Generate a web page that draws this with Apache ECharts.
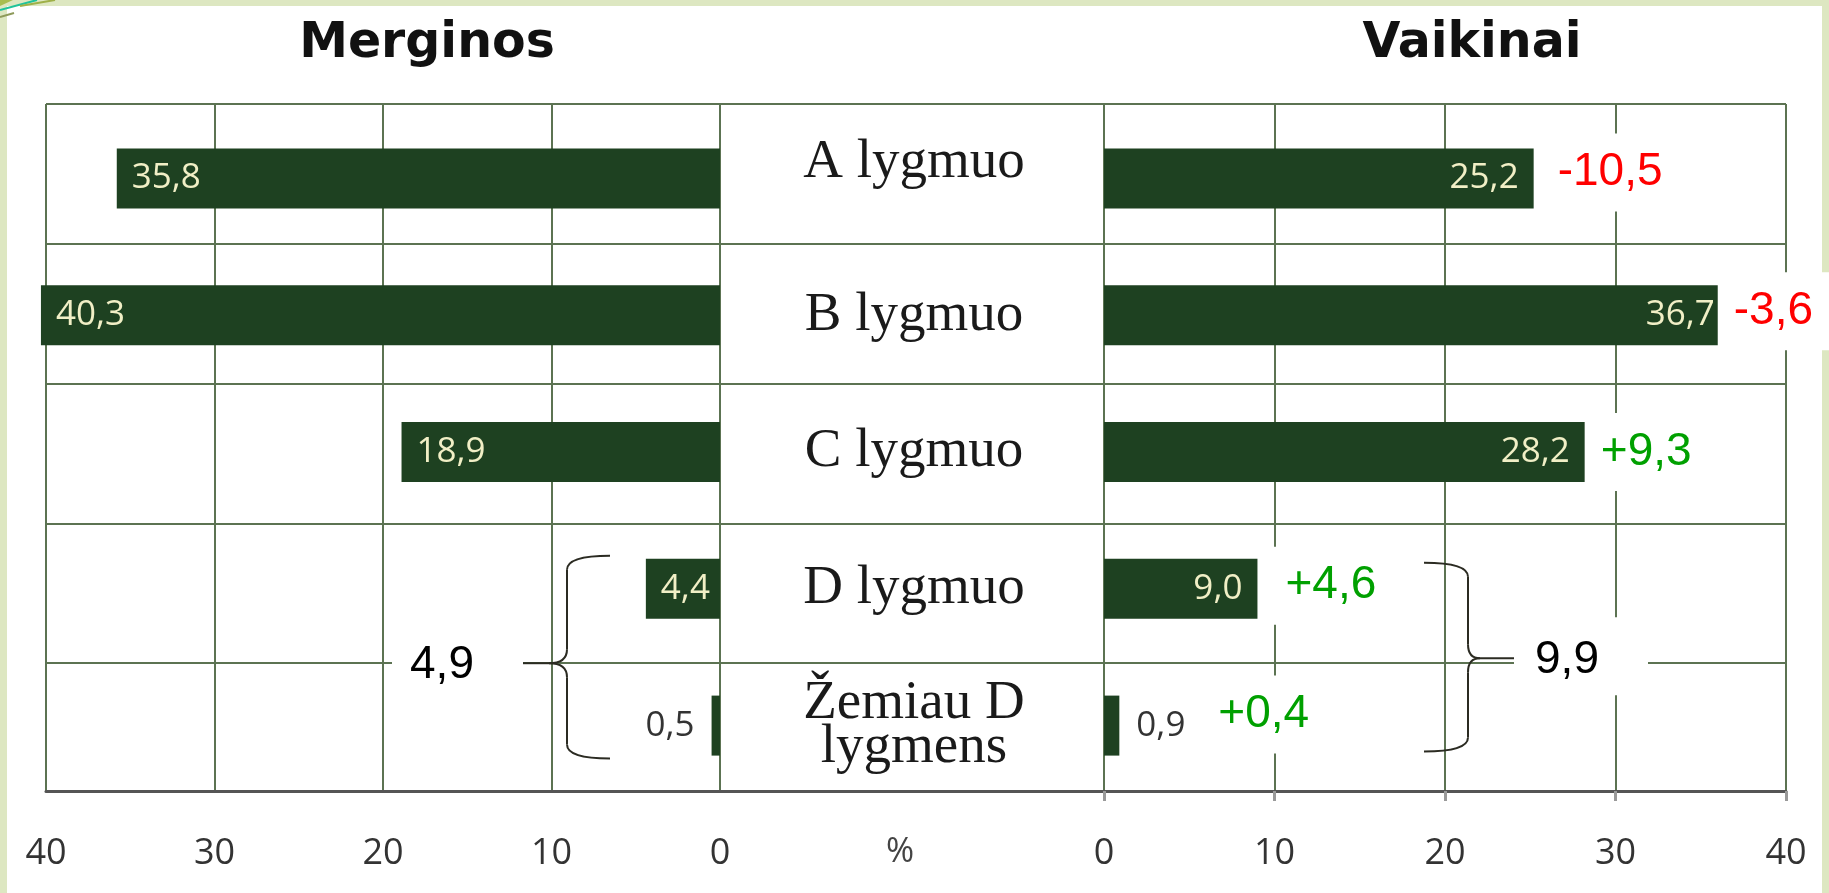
<!DOCTYPE html>
<html>
<head>
<meta charset="utf-8">
<title>Merginos / Vaikinai</title>
<script src="https://cdn.jsdelivr.net/npm/echarts@6/dist/echarts.min.js"></script>
<style>
  html, body { margin: 0; padding: 0; background: #fff; }
  #chart { width: 1829px; height: 893px; }
</style>
</head>
<body>
<div id="chart"></div>
<script>
// data
const levels = ['A lygmuo', 'B lygmuo', 'C lygmuo', 'D lygmuo', 'Žemiau D\nlygmens'];
const girls = [35.8, 40.3, 18.9, 4.4, 0.5];   // Merginos, %
const boys = [25.2, 36.7, 28.2, 9.0, 0.9];    // Vaikinai, %
const change = [-10.5, -3.6, 9.3, 4.6, 0.4];  // boys - girls
const lowSums = [4.9, 9.9];                   // D + below D: girls, boys

// styles
const LINE = '#5c7352';
const BAR = '#1e4121';
const BAR_TXT = '#f1efc6';
const RED = '#ff0000';
const GREEN = '#00a000';
const STRIP = '#dde7c1';
const SANS = 'Open Sans';
const SERIF = 'Liberation Serif';
// label nudges for the change numbers (px, relative to the bar end)
const changeOffsets = [[8, -6], [-12, -4], [0, 0], [12, -3], [83, -11]];

const fmt = v => v.toFixed(1).replace('.', ',');
const signed = v => (v > 0 ? '+' : '') + fmt(v);

const chart = echarts.init(document.getElementById('chart'));

function barItems(values, outside) {
  return values.map(v => v < 2
    ? { value: v, label: { position: outside, color: '#333', distance: 17 } }
    : v);
}

const hidden = { show: false };
const option = {
  backgroundColor: '#fff',
  animation: false,
  grid: [
    { left: 46, top: 104, width: 1740, height: 687, outerBoundsMode: 'none' },  // frame
    { left: 46, top: 104, width: 674, height: 687, outerBoundsMode: 'none' },   // girls lines
    { left: 1104, top: 104, width: 682, height: 687, outerBoundsMode: 'none' }, // boys lines
    { left: 46, top: 110, width: 674, height: 684, outerBoundsMode: 'none' },   // girls bars
    { left: 1104, top: 110, width: 682, height: 684, outerBoundsMode: 'none' }  // boys bars
  ],
  xAxis: [
    { gridIndex: 0, type: 'value', min: 0, max: 1,
      axisLine: { show: true, onZero: false, lineStyle: { color: '#555', width: 3 } },
      axisTick: hidden, axisLabel: hidden, splitLine: hidden },
    { gridIndex: 1, type: 'value', inverse: true, min: 0, max: 40, interval: 10,
      axisLine: hidden, axisTick: hidden,
      axisLabel: { margin: 45, fontFamily: SANS, fontSize: 36, color: '#333' },
      splitLine: { lineStyle: { color: LINE, width: 2 } } },
    { gridIndex: 2, type: 'value', min: 0, max: 40, interval: 10,
      axisLine: hidden,
      axisTick: { show: true, length: 10, lineStyle: { color: '#999', width: 3 } },
      axisLabel: { margin: 45, fontFamily: SANS, fontSize: 36, color: '#333' },
      splitLine: { lineStyle: { color: LINE, width: 2 } } },
    { gridIndex: 3, type: 'value', inverse: true, min: 0, max: 40, show: false },
    { gridIndex: 4, type: 'value', min: 0, max: 40, show: false }
  ],
  yAxis: [
    { gridIndex: 0, type: 'value', inverse: true, min: 0, max: 4.914, interval: 1,
      axisLine: hidden, axisTick: hidden, axisLabel: hidden,
      splitLine: { lineStyle: { color: LINE, width: 2 } } },
    { gridIndex: 1, type: 'value', show: false },
    { gridIndex: 2, type: 'value', show: false },
    { gridIndex: 3, type: 'category', data: levels, inverse: true, show: false },
    { gridIndex: 4, type: 'category', data: levels, inverse: true,
      axisLine: hidden, axisTick: hidden, splitLine: hidden,
      axisLabel: {
        margin: 190, align: 'center',
        formatter: (v, i) => v.split('\n').map(s => '{' + (i === 0 ? 'up' : 'n') + '|' + s + '}').join('\n'),
        rich: {
          n: { fontFamily: SERIF, fontSize: 55, lineHeight: 44, color: '#1a1a1a' },
          up: { fontFamily: SERIF, fontSize: 55, lineHeight: 44, color: '#1a1a1a', padding: [0, 0, 32, 0] }
        }
      } }
  ],
  series: [
    { name: 'Merginos', type: 'bar', xAxisIndex: 3, yAxisIndex: 3, barWidth: 60, clip: false,
      itemStyle: { color: BAR },
      label: { show: true, position: 'insideLeft', distance: 15, color: BAR_TXT,
        fontFamily: SANS, fontSize: 35, formatter: p => fmt(p.value) },
      data: barItems(girls, 'left') },
    { name: 'Vaikinai', type: 'bar', xAxisIndex: 4, yAxisIndex: 4, barWidth: 60, clip: false,
      itemStyle: { color: BAR },
      label: { show: true, position: 'insideRight', distance: 15, color: BAR_TXT,
        fontFamily: SANS, fontSize: 35, formatter: p => fmt(p.value) },
      data: barItems(boys, 'right') },
    { name: 'Pokytis', type: 'scatter', xAxisIndex: 4, yAxisIndex: 4, symbolSize: 0, clip: false,
      itemStyle: { opacity: 1 },
      label: { show: true, position: 'right', distance: 0,
        fontFamily: 'Liberation Sans', fontSize: 46, lineHeight: 46,
        backgroundColor: '#fff', padding: [16, 22, 16, 16],
        formatter: p => signed(change[p.dataIndex]) },
      data: boys.map((v, i) => ({
        value: [v, i],
        label: { color: change[i] < 0 ? RED : GREEN, offset: changeOffsets[i] }
      })) }
  ]
};

chart.setOption(option);

// annotations: braces + sums for D and below-D, titles, frame decoration
const yLine = chart.convertToPixel({ gridIndex: 0 }, [0, 4])[1];
const yD = chart.convertToPixel({ gridIndex: 3 }, [0, 3])[1];
const yE = chart.convertToPixel({ gridIndex: 3 }, [0, 4])[1];
const x0L = chart.convertToPixel({ gridIndex: 1 }, [0, 0])[0];
const x0R = chart.convertToPixel({ gridIndex: 2 }, [0, 0])[0];

const braceStyle = { stroke: '#2b2b22', lineWidth: 2, fill: null };
function brace(xEnd, xStroke, xTip, xLine, yTop, yMid, yBot) {
  const r = 14;
  const q = (x1, y1, cx, cy, x2, y2) => ({ type: 'bezierCurve', z: 52,
    shape: { x1: x1, y1: y1, cpx1: cx, cpy1: cy, x2: x2, y2: y2 }, style: braceStyle });
  const l = (x1, y1, x2, y2) => ({ type: 'line', z: 52,
    shape: { x1: x1, y1: y1, x2: x2, y2: y2 }, style: braceStyle });
  return [
    q(xEnd, yTop, xStroke, yTop, xStroke, yTop + r),
    l(xStroke, yTop + r, xStroke, yMid - r),
    q(xStroke, yMid - r, xStroke, yMid, xTip, yMid),
    q(xTip, yMid, xStroke, yMid, xStroke, yMid + r),
    l(xStroke, yMid + r, xStroke, yBot - r),
    q(xStroke, yBot - r, xStroke, yBot, xEnd, yBot),
    l(xTip, yMid, xLine, yMid)
  ];
}

function sumBox(cx, cy, x1, x2, y1, y2, text) {
  return [
    { type: 'rect', z: 50, shape: { x: x1, y: y1, width: x2 - x1, height: y2 - y1 }, style: { fill: '#fff' } },
    { type: 'text', z: 51, x: cx, y: cy,
      style: { text: text, fontFamily: 'Liberation Sans', fontSize: 46, fill: '#000',
        align: 'center', verticalAlign: 'middle' } }
  ];
}

const deco = (x1, y1, x2, y2, color) => ({ type: 'line', z: 1,
  shape: { x1: x1, y1: y1, x2: x2, y2: y2 }, style: { stroke: color, lineWidth: 2 } });

chart.setOption({
  graphic: [
    { type: 'rect', z: 1, shape: { x: 0, y: 0, width: 7, height: 893 }, style: { fill: STRIP } },
    { type: 'rect', z: 1, shape: { x: 0, y: 0, width: 1829, height: 6 }, style: { fill: STRIP } },
    { type: 'rect', z: 1, shape: { x: 1822, y: 0, width: 7, height: 893 }, style: { fill: STRIP } },
    { type: 'polygon', z: 1, shape: { points: [[0, 0], [13, 0], [0, 6]] }, style: { fill: '#a8bd50' } },
    deco(0, 10, 37, 0, '#1fc39a'),
    deco(20, 6, 55, 0, '#9fb048'),
    deco(0, 17, 14, 13, '#8e9a5a'),

    { type: 'text', x: 427, y: 44,
      style: { text: 'Merginos', fontFamily: 'DejaVu Sans', fontWeight: 'bold', fontSize: 49,
        fill: '#111', align: 'center', verticalAlign: 'middle' } },
    { type: 'text', x: 1472, y: 44,
      style: { text: 'Vaikinai', fontFamily: 'DejaVu Sans', fontWeight: 'bold', fontSize: 49,
        fill: '#111', align: 'center', verticalAlign: 'middle' } },
    { type: 'text', x: (x0L + x0R) / 2 - 12, y: 852,
      style: { text: '%', fontFamily: SANS, fontSize: 34, fill: '#444',
        align: 'center', verticalAlign: 'middle' } }
  ]
    .concat(brace(x0L - 110, x0L - 153, x0L - 171, x0L - 197, yD - 33, yLine, yE + 33))
    .concat(brace(x0R + 320, x0R + 364, x0R + 376, x0R + 410, yD - 26, yLine - 5, yE + 26))
    .concat(sumBox(x0L - 278, yLine + 2, x0L - 328, x0L - 197, yLine - 38, yLine + 37, fmt(lowSums[0])))
    .concat(sumBox(x0R + 463, yLine - 3, x0R + 410, x0R + 544, yLine - 46, yLine + 32, fmt(lowSums[1])))
});
</script>
</body>
</html>
